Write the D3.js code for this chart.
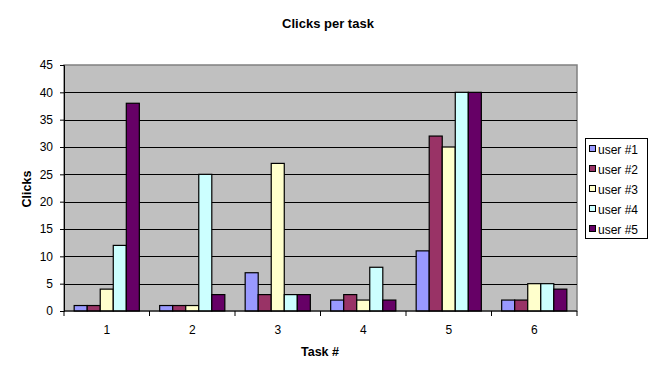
<!DOCTYPE html>
<html><head><meta charset="utf-8">
<script src="https://cdn.jsdelivr.net/npm/d3@7"></script>
<style>body{margin:0;background:#fff}svg{display:block}text{font-family:"Liberation Sans",Arial,sans-serif}</style>
</head><body><svg id="c" width="659" height="379"></svg>
<script>
const tasks = ["1","2","3","4","5","6"];
const users = ["user #1","user #2","user #3","user #4","user #5"];
const user1 = [1,1,7,2,11,2];
const user2 = [1,1,3,3,32,2];
const user3 = [4,1,27,2,30,5];
const user4 = [12,25,3,8,40,5];
const user5 = [38,3,3,2,40,4];
const yTicks = [0,5,10,15,20,25,30,35,40,45];
const colors = ["#9999FF","#993366","#FFFFCC","#CCFFFF","#660066"];
const series = [user1,user2,user3,user4,user5];

const svg = d3.select("#c");
const m = {l:64, r:577, t:65, b:311};
const x = d3.scaleBand().domain(tasks).range([m.l, m.r]).paddingInner(0).paddingOuter(0);
const xs = d3.scaleBand().domain(users).range([0, x.bandwidth()]).paddingInner(0).paddingOuter(0.78);
const y = d3.scaleLinear().domain([0,45]).range([m.b, m.t]);

svg.append("rect").attr("x",m.l).attr("y",m.t).attr("width",m.r-m.l).attr("height",m.b-m.t)
  .attr("fill","#C0C0C0").attr("stroke","#808080").attr("stroke-width",1.5);

svg.append("g").selectAll("line").data(yTicks.filter(d=>d>0 && d<45)).join("line")
  .attr("x1",m.l).attr("x2",m.r).attr("y1",d=>Math.round(y(d))+0.5).attr("y2",d=>Math.round(y(d))+0.5)
  .attr("stroke","#000").attr("stroke-width",1);

const g = svg.append("g");
tasks.forEach((t,i)=>{
  series.forEach((s,j)=>{
    const v = s[i];
    g.append("rect")
      .attr("x", x(t)+xs(users[j]))
      .attr("y", y(v))
      .attr("width", xs.bandwidth())
      .attr("height", y(0)-y(v))
      .attr("fill", colors[j]).attr("stroke","#000").attr("stroke-width",1.2);
  });
});

// y axis
const ya = svg.append("g").attr("transform",`translate(${m.l},0)`)
  .call(d3.axisLeft(y).tickValues(yTicks).tickSize(4).tickPadding(7));
ya.select(".domain").attr("stroke","#000");
ya.selectAll("text").attr("font-size",12).attr("fill","#000");

// x axis
const xa = svg.append("g").attr("transform",`translate(0,${m.b})`);
xa.append("line").attr("x1",m.l).attr("x2",m.r).attr("y1",0).attr("y2",0).attr("stroke","#000");
const bounds = tasks.map(t=>x(t)).concat([x(tasks[tasks.length-1])+x.bandwidth()]);
xa.selectAll("line.tk").data(bounds).join("line").attr("class","tk")
  .attr("x1",d=>d).attr("x2",d=>d).attr("y1",0).attr("y2",5).attr("stroke","#000");
xa.selectAll("text").data(tasks).join("text")
  .attr("x",d=>x(d)+x.bandwidth()/2).attr("y",23).attr("text-anchor","middle")
  .attr("font-size",12).text(d=>d);

svg.append("text").attr("x",328).attr("y",28).attr("text-anchor","middle")
  .attr("font-size",13).attr("font-weight","bold").text("Clicks per task");
svg.append("text").attr("x",320).attr("y",356).attr("text-anchor","middle")
  .attr("font-size",12.5).attr("font-weight","bold").text("Task #");
svg.append("text").attr("transform","translate(31,189) rotate(-90)").attr("text-anchor","middle")
  .attr("font-size",12.5).attr("font-weight","bold").text("Clicks");

// legend
const lg = svg.append("g");
lg.append("rect").attr("x",585.5).attr("y",138.5).attr("width",62).attr("height",100)
  .attr("fill","#fff").attr("stroke","#000");
users.forEach((u,j)=>{
  const cy = 149 + j*20;
  lg.append("rect").attr("x",589.5).attr("y",cy-3.5).attr("width",6).attr("height",6)
    .attr("fill",colors[j]).attr("stroke","#000");
  lg.append("text").attr("x",598).attr("y",cy+4.5).attr("font-size",12).text(u);
});
</script></body></html>
